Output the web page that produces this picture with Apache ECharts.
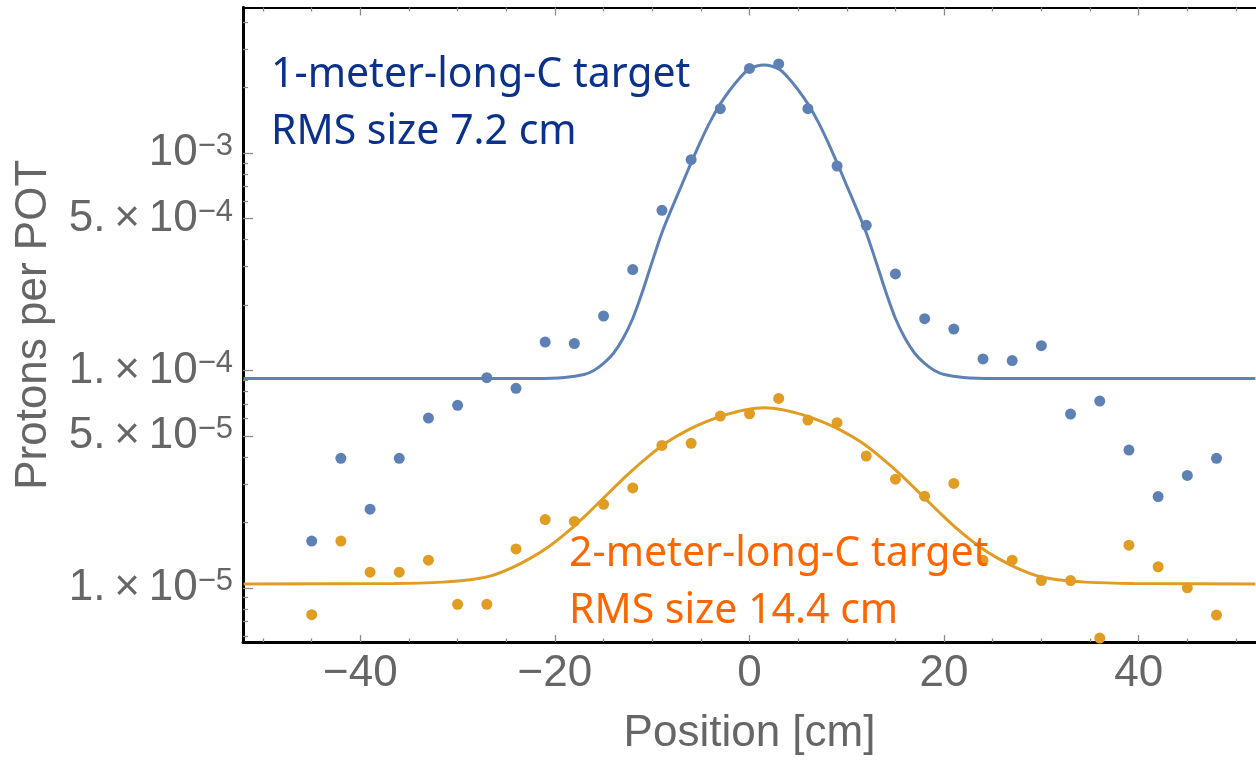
<!DOCTYPE html>
<html>
<head>
<meta charset="utf-8">
<script src="https://cdn.jsdelivr.net/npm/echarts@6/dist/echarts.min.js"></script>
<style>
html,body{margin:0;padding:0;background:#fff;}
#main{width:1256px;height:761px;}
</style>
</head>
<body>
<div id="main"></div>
<script>
// measured positions (cm)
var positions = [-45,-42,-39,-36,-33,-30,-27,-24,-21,-18,-15,-12,-9,-6,-3,0,3,6,9,12,15,18,21,24,27,30,33,36,39,42,45,48];
// 1 m target, protons per POT
var oneMeter = [1.64e-5,3.94e-5,2.30e-5,3.94e-5,6.04e-5,6.91e-5,9.26e-5,8.27e-5,1.35e-4,1.33e-4,1.78e-4,2.91e-4,5.45e-4,9.32e-4,1.60e-3,2.45e-3,2.57e-3,1.60e-3,8.72e-4,4.65e-4,2.78e-4,1.73e-4,1.55e-4,1.13e-4,1.11e-4,1.30e-4,6.30e-5,7.23e-5,4.30e-5,2.63e-5,3.29e-5,3.94e-5];
// 2 m target
var twoMeter = [7.52e-6,1.64e-5,1.18e-5,1.18e-5,1.34e-5,8.39e-6,8.39e-6,1.51e-5,2.06e-5,2.02e-5,2.42e-5,2.88e-5,4.52e-5,4.62e-5,6.17e-5,6.32e-5,7.43e-5,5.91e-5,5.75e-5,4.04e-5,3.16e-5,2.64e-5,3.02e-5,1.34e-5,1.34e-5,1.08e-5,1.08e-5,5.87e-6,1.57e-5,1.25e-5,1.00e-5,7.49e-6];

// fitted curves
var fitX1 = [-52,-22,-19,-17,-16,-15,-14,-13,-12,-11,-10,-9,-8,-7,-6,-5,-4,-3,-2,-1,0,1.5,3,4,5,6,7,8,9,10,11,12,13,14,15,16,17,18,19,20,22,25,52];
var fitY1 = [9.189e-5,9.189e-5,9.287e-5,9.586e-5,1.000e-4,1.077e-4,1.197e-4,1.403e-4,1.734e-4,2.306e-4,3.167e-4,4.303e-4,5.549e-4,7.075e-4,9.02e-4,1.139e-3,1.407e-3,1.684e-3,1.953e-3,2.217e-3,2.439e-3,
	2.544e-3,
	2.439e-3,2.217e-3,1.953e-3,1.684e-3,1.407e-3,1.139e-3,9.02e-4,7.075e-4,5.549e-4,4.303e-4,3.167e-4,2.306e-4,1.734e-4,1.403e-4,1.197e-4,1.077e-4,1.000e-4,9.586e-5,9.287e-5,9.189e-5,9.189e-5];
var fitX2 = [-52,-36.5,-31.5,-28.5,-26.5,-24.5,-22.5,-20.5,-18.5,-16.5,-14.5,-12.5,-10.5,-8.5,-6.5,-4.5,-2.5,-0.5,1.5,3.5,5.5,7.5,9.5,11.5,13.5,15.5,17.5,19.5,21.5,23.5,25.5,27.5,29.5,31.5,34.5,39.5,52];
var fitY2 = [1.042e-5,1.047e-5,1.062e-5,1.091e-5,1.138e-5,1.232e-5,1.369e-5,1.562e-5,1.841e-5,2.227e-5,2.723e-5,3.328e-5,3.984e-5,4.669e-5,5.273e-5,5.798e-5,6.244e-5,6.583e-5,
	6.738e-5,
	6.583e-5,6.244e-5,5.798e-5,5.273e-5,4.669e-5,3.984e-5,3.328e-5,2.723e-5,2.227e-5,1.841e-5,1.562e-5,1.369e-5,1.232e-5,1.138e-5,1.091e-5,1.062e-5,1.047e-5,1.042e-5];

// axis ticks
var xMajorTicks = [-40,-20,0,20,40];
var xMinorTicks = [-50,-45,-35,-30,-25,-15,-10,-5,5,10,15,25,30,35,45,50];
var yLabelValues = [1e-5,5e-5,1e-4,5e-4,1e-3];
var yLabelMant = ['1.','5.','1.','5.',''];
var yLabelExp = ['\u22125','\u22125','\u22124','\u22124','\u22123'];
var yMinorTicks = [6e-6,7e-6,8e-6,9e-6,2e-5,3e-5,4e-5,6e-5,7e-5,8e-5,9e-5,2e-4,3e-4,4e-4,6e-4,7e-4,8e-4,9e-4,2e-3,3e-3,4e-3];

var xMin = -52.06, xMax = 52.06;
var yMin = 5.632e-6, yMax = 4.674e-3;

function pairs(xs, ys){
	var out = [];
	for (var i = 0; i < xs.length; i++) out.push([xs[i], ys[i]]);
	return out;
}
function logs(arr){
	return arr.map(function(v){ return Math.log10(v); });
}

var gray = '#666666';
var tickGray = '#8a8a8a';
var labelFont = "'Liberation Sans', Arial, sans-serif";
var noteFont = "'Noto Sans', 'Open Sans', sans-serif";

function xLabel(v){
	return v < 0 ? '\u2212' + Math.abs(v) : String(v);
}
function yLabel(v){
	for (var i = 0; i < yLabelValues.length; i++) {
		if (Math.abs(Math.log10(yLabelValues[i]) - v) < 1e-6) {
			var m = yLabelMant[i];
			var head = m ? m + '\u2009\u00d7\u200910' : '10';
			return '{b|' + head + '}{e|' + yLabelExp[i] + '}';
		}
	}
	return '';
}

function xAxisDeco(pos, ticks, len, withLine, withLabels){
	return {
		type: 'value', position: pos, min: xMin, max: xMax,
		axisLine: withLine ? {show: true, onZero: false, lineStyle: {color: '#000', width: pos == 'top' ? 2 : 3}} : {show: false, onZero: false},
		axisTick: {show: true, inside: true, length: len, customValues: ticks, lineStyle: {color: tickGray, width: 1.3}},
		axisLabel: withLabels ? {show: true, customValues: ticks, formatter: xLabel, margin: 10, color: gray, fontSize: 44, fontFamily: labelFont} : {show: false},
		splitLine: {show: false}
	};
}

var option = {
	animation: false,
	backgroundColor: '#ffffff',
	grid: {left: 243, right: -15, top: 7.5, bottom: 118, containLabel: false},
	title: [
		{
			text: '1-meter-long-C target\nRMS size 7.2 cm',
			left: 271, top: 47, padding: 0,
			textStyle: {color: '#0a318c', fontSize: 41, lineHeight: 57, fontWeight: 'normal', fontFamily: noteFont}
		},
		{
			text: '2-meter-long-C target\nRMS size 14.4 cm',
			left: 569, top: 526, padding: 0,
			textStyle: {color: '#ff6600', fontSize: 41, lineHeight: 57, fontWeight: 'normal', fontFamily: noteFont}
		}
	],
	xAxis: [
		(function(){
			var a = xAxisDeco('bottom', xMajorTicks, 7, true, true);
			a.name = 'Position [cm]';
			a.nameLocation = 'middle';
			a.nameGap = 70;
			a.nameTextStyle = {color: gray, fontSize: 44, fontFamily: labelFont};
			return a;
		})(),
		xAxisDeco('bottom', xMinorTicks, 3.5, false, false),
		xAxisDeco('top', xMajorTicks, 8, true, false),
		xAxisDeco('top', xMinorTicks, 4, false, false)
	],
	yAxis: [
		{
			type: 'log', logBase: 10, position: 'left', min: yMin, max: yMax,
			name: 'Protons per POT', nameLocation: 'middle', nameGap: 187,
			nameTextStyle: {color: gray, fontSize: 44, fontFamily: labelFont},
			axisLine: {show: true, onZero: false, lineStyle: {color: '#000', width: 3}},
			axisTick: {show: false}, axisLabel: {show: false}, splitLine: {show: false}
		},
		{
			type: 'value', position: 'left', min: Math.log10(yMin), max: Math.log10(yMax),
			axisLine: {show: true, onZero: false, lineStyle: {color: '#000', width: 3}}, splitLine: {show: false},
			axisTick: {show: true, inside: true, length: 10, customValues: logs(yLabelValues), lineStyle: {color: tickGray, width: 1.3}},
			axisLabel: {
				show: true, customValues: logs(yLabelValues), formatter: yLabel, margin: 10,
				rich: {
					b: {color: gray, fontSize: 44, lineHeight: 44, fontFamily: labelFont},
					e: {color: gray, fontSize: 31, lineHeight: 23, verticalAlign: 'top', fontFamily: labelFont}
				}
			}
		},
		{
			type: 'value', position: 'left', min: Math.log10(yMin), max: Math.log10(yMax),
			axisLine: {show: false, onZero: false}, splitLine: {show: false}, axisLabel: {show: false},
			axisTick: {show: true, inside: true, length: 5, customValues: logs(yMinorTicks), lineStyle: {color: tickGray, width: 1.3}}
		}
	],
	series: [
		{
			name: '1 m points', type: 'scatter', xAxisIndex: 0, yAxisIndex: 0,
			symbol: 'circle', symbolSize: 11, itemStyle: {color: '#5e81b5', opacity: 1},
			data: pairs(positions, oneMeter)
		},
		{
			name: '2 m points', type: 'scatter', xAxisIndex: 0, yAxisIndex: 0,
			symbol: 'circle', symbolSize: 11, itemStyle: {color: '#e19c24', opacity: 1},
			data: pairs(positions, twoMeter)
		},
		{
			name: '1 m fit', type: 'line', xAxisIndex: 0, yAxisIndex: 0,
			showSymbol: false, smooth: 0.3, lineStyle: {color: '#5e81b5', width: 3},
			data: pairs(fitX1, fitY1)
		},
		{
			name: '2 m fit', type: 'line', xAxisIndex: 0, yAxisIndex: 0,
			showSymbol: false, smooth: 0.3, lineStyle: {color: '#e19c24', width: 3},
			data: pairs(fitX2, fitY2)
		}
	]
};

var myChart = echarts.init(document.getElementById('main'));
myChart.setOption(option);
</script>
</body>
</html>
